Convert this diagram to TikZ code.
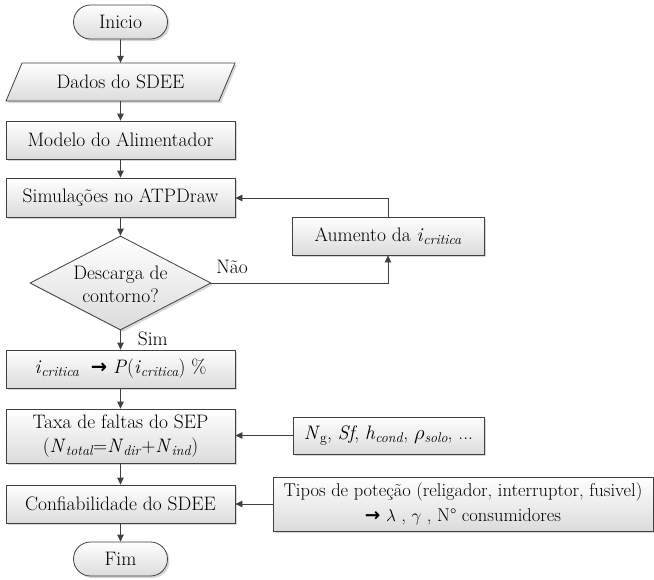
\documentclass[tikz,border=0pt]{standalone}
\usepackage{fontspec}
\newfontfamily\arrowfont{DejaVu Sans}
\usetikzlibrary{shapes.misc,shapes.geometric,shadows,arrows.meta}
\newcommand\lsub[1]{\raisebox{-0.35ex}{\fontsize{14}{14}\selectfont #1}}
\newcommand\icrit{\textit{i}\lsub{\textit{critica}}}
\definecolor{linec}{HTML}{404040}
\tikzset{
 base/.style={draw=linec, line width=0.8pt, top color=white, bottom color=black!14,
   drop shadow={shadow xshift=2pt, shadow yshift=-2pt, fill=black!35, opacity=0.45},
   font=\fontsize{19.5}{24}\selectfont, align=center, inner sep=2pt},
 procbox/.style={base, rectangle, minimum width=229pt, minimum height=38pt},
 term/.style={base, rounded rectangle, minimum width=98pt, minimum height=34pt},
 decis/.style={base, diamond, aspect=1.93, inner sep=0pt, minimum width=181pt, minimum height=94pt},
 arr/.style={draw=linec, line width=0.8pt, -{Triangle[length=7pt,width=6.5pt]}},
 lbl/.style={font=\fontsize{19.5}{23}\selectfont, inner sep=0pt, align=center}
}
\begin{document}
\begin{tikzpicture}[x=1pt,y=-1pt]
\useasboundingbox (0,0) rectangle (654,579);
\node[term] (start) at (120.5,22) {Inicio};
\path[base] (22,63) -- (235,63) -- (219,101) -- (6,101) -- cycle;
\node[lbl, minimum width=200pt, minimum height=38pt] (data) at (120.5,82) {Dados do SDEE};
\node[procbox] (model) at (120.5,140) {Modelo do Alimentador};
\node[procbox, minimum height=39pt] (sim) at (120.5,197.5) {Simulações no ATPDraw};
\node[decis] (dec) at (120.5,283) {};
\node[lbl] (dectext) at (120.5,284) {Descarga de\\contorno?};
\node[procbox] (crit) at (120.5,369) {\icrit\ \ {\arrowfont\bfseries →} \textit{P}(\icrit) \%};
\node[procbox, minimum height=54pt] (taxa) at (120.5,436)
  {Taxa de faltas do SEP\\(\textit{N}\lsub{\textit{total}}=\textit{N}\lsub{\textit{dir}}+\textit{N}\lsub{\textit{ind}})};
\node[procbox] (conf) at (120.5,504) {Confiabilidade do SDEE};
\node[term] (fim) at (120.5,559) {Fim};
\node[procbox, minimum width=192pt] (aum) at (388,236) {Aumento da \icrit};
\node[procbox, minimum width=191pt, minimum height=37pt] (params) at (388.5,435.5)
  {\textit{N}\lsub{g}, \textit{Sf}, \textit{h}\lsub{\textit{cond}}, $\rho$\lsub{\textit{solo}}, ...};
\node[procbox, minimum width=380pt, minimum height=54pt, inner sep=1pt, font=\fontsize{18.5}{25}\selectfont] (tipos) at (463,504)
  {Tipos de poteção (religador, interruptor, fusivel)\\{\arrowfont\bfseries →} $\lambda$ , $\gamma$ , N° consumidores};
\draw[arr] (start) -- (data);
\draw[arr] (data) -- (model);
\draw[arr] (model) -- (sim);
\draw[arr] (sim) -- (dec);
\draw[arr] (dec) -- (crit) node[lbl, pos=0.45, right=17pt] {Sim};
\draw[arr] (crit) -- (taxa);
\draw[arr] (taxa) -- (conf);
\draw[arr] (conf) -- (fim);
\coordinate (c1) at (388,283);
\draw[arr] (dec.east) -- (c1) -- (aum.south);
\node[lbl] at (232,267) {Não};
\coordinate (c2) at (388,198);
\draw[arr] (aum.north) -- (c2) -- (c2 -| sim.east);
\draw[arr] (params.west) -- (params.west -| taxa.east);
\draw[arr] (tipos.west) -- (tipos.west -| conf.east);
\end{tikzpicture}
\end{document}
